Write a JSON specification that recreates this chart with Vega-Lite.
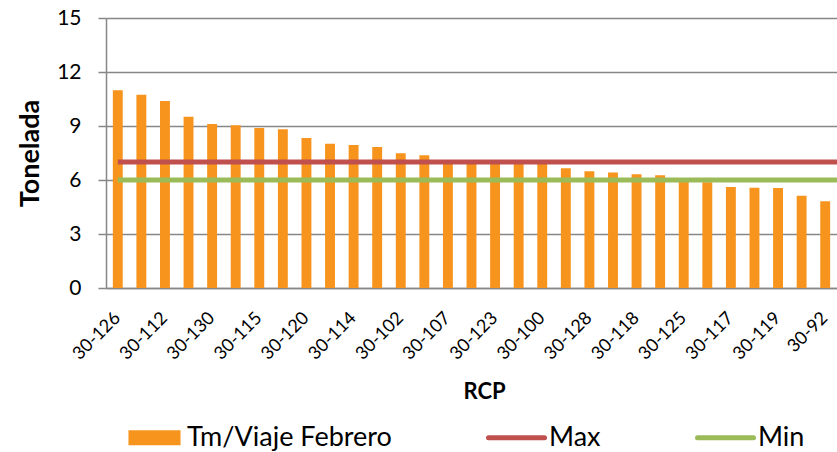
{
  "$schema": "https://vega.github.io/schema/vega-lite/v6.json",
  "width": 731,
  "height": 270,
  "autosize": "none",
  "padding": {"left": 106, "top": 18, "right": 0, "bottom": 164},
  "background": "white",
  "config": {
    "font": "Lato",
    "view": {"stroke": null},
    "axis": {"labelColor": "#000000", "titleColor": "#000000", "labelFont": "Lato", "titleFont": "Lato"}
  },
  "data": {
    "values": [
      {"rcp": "30-126", "tm": 10.98},
      {"rcp": "30-121", "tm": 10.74},
      {"rcp": "30-112", "tm": 10.39},
      {"rcp": "30-110", "tm": 9.52},
      {"rcp": "30-130", "tm": 9.11},
      {"rcp": "30-124", "tm": 9.04},
      {"rcp": "30-115", "tm": 8.89},
      {"rcp": "30-105", "tm": 8.82},
      {"rcp": "30-120", "tm": 8.33},
      {"rcp": "30-113", "tm": 8.02},
      {"rcp": "30-114", "tm": 7.94},
      {"rcp": "30-108", "tm": 7.83},
      {"rcp": "30-102", "tm": 7.48},
      {"rcp": "30-103", "tm": 7.37},
      {"rcp": "30-107", "tm": 7.05},
      {"rcp": "30-111", "tm": 7.02},
      {"rcp": "30-123", "tm": 6.98},
      {"rcp": "30-106", "tm": 6.96},
      {"rcp": "30-100", "tm": 6.93},
      {"rcp": "30-122", "tm": 6.65},
      {"rcp": "30-128", "tm": 6.48},
      {"rcp": "30-116", "tm": 6.41},
      {"rcp": "30-118", "tm": 6.32},
      {"rcp": "30-129", "tm": 6.26},
      {"rcp": "30-125", "tm": 6.05},
      {"rcp": "30-104", "tm": 5.88},
      {"rcp": "30-117", "tm": 5.61},
      {"rcp": "30-109", "tm": 5.57},
      {"rcp": "30-119", "tm": 5.56},
      {"rcp": "30-101", "tm": 5.13},
      {"rcp": "30-92", "tm": 4.82}
    ]
  },
  "layer": [
    {
      "mark": {"type": "bar", "width": {"band": 0.42}},
      "encoding": {
        "x": {
          "field": "rcp",
          "type": "nominal",
          "sort": null,
          "scale": {"paddingInner": 0, "paddingOuter": 0},
          "axis": {
            "title": "RCP",
            "titleFontSize": 22,
            "titleFontWeight": "bold",
            "titlePadding": 18,
            "titleX": 378,
            "labelAngle": -45,
            "labelAlign": "right",
            "labelBaseline": "middle",
            "labelFontSize": 18,
            "labelPadding": 27,
            "ticks": false,
            "domainColor": "#878787",
            "domainWidth": 1.5,
            "labelOverlap": false,
            "values": ["30-126", "30-112", "30-130", "30-115", "30-120", "30-114", "30-102", "30-107", "30-123", "30-100", "30-128", "30-118", "30-125", "30-117", "30-119", "30-92"]
          }
        },
        "y": {
          "field": "tm",
          "type": "quantitative",
          "scale": {"domain": [0, 15], "nice": false},
          "axis": {
            "title": "Tonelada",
            "titleFontSize": 27,
            "titleFontWeight": "bold",
            "titlePadding": 12,
            "values": [0, 3, 6, 9, 12, 15],
            "labelFontSize": 21,
            "labelPadding": 17,
            "tickSize": 8,
            "tickColor": "#878787",
            "tickWidth": 1.5,
            "domainColor": "#878787",
            "domainWidth": 1.5,
            "grid": true,
            "gridColor": "#878787",
            "gridWidth": 1.5
          }
        },
        "color": {
          "datum": "Tm/Viaje Febrero",
          "type": "nominal",
          "scale": {
            "domain": ["Tm/Viaje Febrero", "Max", "Min"],
            "range": ["#F7941D", "#C0504D", "#9BBB59"]
          },
          "legend": {
            "title": null,
            "orient": "none",
            "direction": "horizontal",
            "legendX": 35,
            "legendY": 406,
            "columnPadding": 86,
            "symbolSize": 3136,
            "labelFontSize": 27,
            "labelLimit": 400,
            "labelFont": "Lato",
            "labelColor": "#000000",
            "labelOffset": 19,
            "encode": {
              "symbols": {
                "update": {
                  "shape": {"signal": "datum.value === 'Tm/Viaje Febrero' ? 'M-0.93,-0.27L0.93,-0.27L0.93,0.27L-0.93,0.27Z' : 'M-1,0L1,0'"},
                  "size": {"value": 3136},
                  "fill": {"signal": "datum.value === 'Tm/Viaje Febrero' ? scale('color', datum.value) : 'transparent'"},
                  "stroke": {"signal": "scale('color', datum.value)"},
                  "strokeWidth": {"signal": "datum.value === 'Tm/Viaje Febrero' ? 0 : 5"},
                  "strokeCap": {"value": "round"},
                  "opacity": {"value": 1}
                }
              }
            }
          }
        }
      }
    },
    {
      "data": {"values": [{"series": "Max", "v": 7, "rcp": "30-126"}, {"series": "Min", "v": 6, "rcp": "30-126"}]},
      "mark": {"type": "rule", "strokeWidth": 5},
      "encoding": {
        "x": {"field": "rcp", "type": "nominal", "sort": null},
        "x2": {"value": {"expr": "width"}},
        "y": {"field": "v", "type": "quantitative"},
        "color": {"field": "series", "type": "nominal", "legend": {"title": null}}
      }
    }
  ]
}
